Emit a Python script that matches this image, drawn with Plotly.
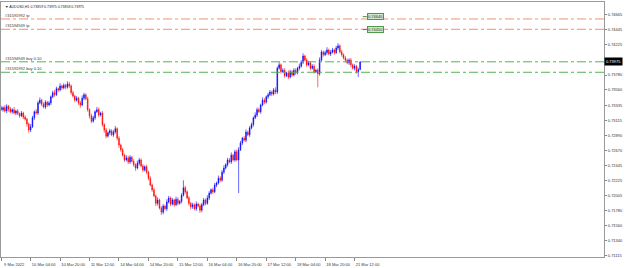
import plotly.graph_objects as go

# ---------------- data ----------------
FIRST_OPEN = 0.7330
CLOSE = [
    0.7327, 0.7330, 0.7325, 0.7332, 0.7328, 0.7324, 0.7327, 0.7322, 0.7325, 0.7321,
    0.7318, 0.7322, 0.7316, 0.7313, 0.7306, 0.7297, 0.7302, 0.7315, 0.7324, 0.7322,
    0.7337, 0.7341, 0.7335, 0.7331, 0.7338, 0.7334, 0.7337, 0.7346, 0.7352, 0.7349,
    0.7358, 0.7356, 0.7362, 0.7359, 0.7363, 0.7360, 0.7365, 0.7362, 0.7352, 0.7347,
    0.7341, 0.7344, 0.7337, 0.7334, 0.7344, 0.7349, 0.7343, 0.7327, 0.7318, 0.7310,
    0.7315, 0.7324, 0.7327, 0.7319, 0.7322, 0.7305, 0.7297, 0.7288, 0.7293, 0.7296,
    0.7290, 0.7294, 0.7299, 0.7285, 0.7275, 0.7268, 0.7260, 0.7253, 0.7256, 0.7250,
    0.7257, 0.7251, 0.7246, 0.7241, 0.7248, 0.7253, 0.7244, 0.7238, 0.7243, 0.7235,
    0.7226, 0.7216, 0.7209, 0.7200, 0.7189, 0.7194, 0.7182, 0.7176, 0.7185, 0.7181,
    0.7191, 0.7197, 0.7188, 0.7194, 0.7187, 0.7195, 0.7189, 0.7192, 0.7201, 0.7212,
    0.7206, 0.7197, 0.7189, 0.7184, 0.7187, 0.7181, 0.7188, 0.7185, 0.7179, 0.7187,
    0.7194, 0.7189, 0.7197, 0.7204, 0.7209, 0.7206, 0.7216, 0.7219, 0.7226, 0.7223,
    0.7235, 0.7241, 0.7246, 0.7253, 0.7250, 0.7260, 0.7253, 0.7265, 0.7253, 0.7268,
    0.7278, 0.7285, 0.7282, 0.7294, 0.7290, 0.7300, 0.7305, 0.7315, 0.7319, 0.7327,
    0.7324, 0.7334, 0.7341, 0.7338, 0.7346, 0.7349, 0.7353, 0.7350, 0.7356, 0.7353,
    0.7388, 0.7393, 0.7383, 0.7385, 0.7377, 0.7381, 0.7375, 0.7383, 0.7378, 0.7385,
    0.7381, 0.7388, 0.7391, 0.7397, 0.7406, 0.7400, 0.7393, 0.7396, 0.7388, 0.7391,
    0.7383, 0.7385, 0.7380, 0.7400, 0.7412, 0.7408, 0.7411, 0.7415, 0.7409, 0.7412,
    0.7415, 0.7411, 0.7418, 0.7421, 0.7412, 0.7408, 0.7403, 0.7400, 0.7396, 0.7400,
    0.7393, 0.7388, 0.7391, 0.7383, 0.73859, 0.73975,
]
WICK_UP_PIPS = [
    3, 2, 4, 3, 2, 3, 2, 4, 2, 3,
    2, 3, 2, 3, 2, 2, 4, 3, 2, 4,
    3, 4, 2, 3, 3, 2, 3, 2, 3, 4,
    3, 2, 4, 2, 3, 2, 4, 3, 2, 3,
    2, 3, 2, 3, 4, 3, 2, 3, 2, 3,
    3, 2, 4, 3, 2, 3, 2, 3, 2, 3,
    2, 3, 4, 2, 3, 2, 3, 2, 4, 3,
    3, 2, 3, 2, 4, 3, 2, 3, 2, 3,
    2, 3, 2, 3, 2, 4, 2, 3, 3, 2,
    4, 3, 2, 3, 2, 4, 3, 2, 3, 11,
    3, 2, 3, 2, 3, 2, 4, 2, 3, 3,
    3, 2, 4, 3, 2, 3, 3, 2, 4, 3,
    3, 4, 2, 3, 3, 4, 2, 3, 3, 4,
    3, 2, 3, 4, 2, 3, 3, 2, 4, 3,
    3, 2, 4, 3, 2, 3, 3, 2, 3, 4,
    3, 4, 2, 3, 3, 2, 4, 3, 2, 3,
    3, 2, 4, 3, 4, 2, 3, 3, 2, 3,
    3, 2, 3, 4, 3, 2, 3, 4, 2, 3,
    3, 2, 3, 4, 2, 3, 2, 3, 2, 3,
    3, 2, 3, 2, 3, 0,
]
WICK_DN_PIPS = [
    2, 3, 2, 3, 4, 2, 3, 2, 3, 2,
    3, 2, 3, 2, 4, 4, 3, 2, 3, 2,
    3, 2, 3, 2, 3, 3, 2, 3, 2, 3,
    2, 3, 2, 3, 2, 3, 2, 3, 3, 2,
    3, 2, 3, 4, 2, 3, 2, 3, 4, 3,
    2, 3, 2, 3, 2, 3, 4, 3, 2, 3,
    2, 3, 2, 3, 4, 3, 2, 3, 2, 3,
    3, 2, 3, 4, 2, 3, 2, 3, 2, 3,
    3, 2, 3, 2, 4, 3, 2, 4, 3, 2,
    3, 2, 3, 2, 3, 2, 3, 2, 3, 2,
    3, 2, 3, 4, 3, 2, 3, 2, 4, 3,
    2, 3, 2, 3, 2, 3, 2, 3, 2, 3,
    2, 3, 2, 3, 2, 3, 2, 3, 2, 49,
    2, 3, 2, 3, 2, 3, 2, 3, 2, 3,
    2, 3, 2, 3, 2, 3, 2, 3, 2, 3,
    3, 2, 3, 2, 3, 2, 3, 2, 3, 2,
    3, 2, 3, 2, 3, 2, 3, 2, 3, 2,
    3, 2, 20, 3, 2, 3, 2, 3, 2, 3,
    2, 3, 2, 3, 2, 3, 2, 3, 2, 3,
    3, 2, 3, 3, 8, 0,
]
X_TICK_INDEX = [0, 16, 32, 48, 64, 80, 96, 112, 128, 144, 160, 176, 192]
X_TICK_LABELS = ["9 Mar 2022", "10 Mar 04:00", "10 Mar 20:00", "11 Mar 12:00",
                 "14 Mar 04:00", "14 Mar 20:00", "15 Mar 12:00", "16 Mar 04:00",
                 "16 Mar 20:00", "17 Mar 12:00", "18 Mar 04:00", "18 Mar 20:00",
                 "21 Mar 12:00"]
Y_TICKS = [0.74665, 0.74445, 0.74225, 0.73780, 0.73560, 0.73335, 0.73115, 0.72890,
           0.72670, 0.72445, 0.72225, 0.72005, 0.71780, 0.71560, 0.71340, 0.71115]
TP_LEVELS = [0.74606, 0.74454]
TP_LABELS = ["#31591992 tp", "#31594949 tp"]
BUY_LEVELS = [0.73975, 0.73821]
BUY_LABELS = ["#31594949 buy 0.10", "#31591992 buy 0.10"]
BOX_LEVELS = [0.74640, 0.74450]
BOX_TEXTS = ["0.74640", "0.74450"]
TITLE = "\u25bc AUDUSD,H1 0.73859 0.73975 0.73858 0.73975"
LAST_PRICE = 0.73975

# ---------------- build ----------------
PIP = 0.0001
x = list(range(len(CLOSE)))
opens = [FIRST_OPEN] + CLOSE[:-1]
highs = [max(o, c) + u * PIP for o, c, u in zip(opens, CLOSE, WICK_UP_PIPS)]
lows = [min(o, c) - d * PIP for o, c, d in zip(opens, CLOSE, WICK_DN_PIPS)]

FONT = "Liberation Sans"
fig = go.Figure(go.Candlestick(
    x=x, open=opens, high=highs, low=lows, close=CLOSE,
    increasing=dict(line=dict(color="#0000FF", width=0.6), fillcolor="#0000FF"),
    decreasing=dict(line=dict(color="#FF0000", width=0.6), fillcolor="#FF0000"),
    whiskerwidth=0, hoverinfo="skip", showlegend=False,
))

shapes = []
annotations = []
for lvl, lab in zip(TP_LEVELS, TP_LABELS):
    shapes.append(dict(type="line", xref="paper", x0=0, x1=1, yref="y", y0=lvl, y1=lvl,
                       line=dict(color="#F2926C", width=1, dash="dashdot")))
    annotations.append(dict(xref="paper", x=0, xanchor="left", xshift=2, y=lvl, yanchor="bottom",
                            yshift=-1, text=lab, showarrow=False,
                            font=dict(size=4, color="#333", family=FONT)))
for lvl, lab in zip(BUY_LEVELS, BUY_LABELS):
    shapes.append(dict(type="line", xref="paper", x0=0, x1=1, yref="y", y0=lvl, y1=lvl,
                       line=dict(color="#55B255", width=1, dash="dashdot")))
    annotations.append(dict(xref="paper", x=0, xanchor="left", xshift=2, y=lvl, yanchor="bottom",
                            yshift=-1, text=lab, showarrow=False,
                            font=dict(size=4, color="#333", family=FONT)))
for lvl, txt in zip(BOX_LEVELS, BOX_TEXTS):
    shapes.append(dict(type="line", xref="x", x0=196.5, x1=198.6, yref="y", y0=lvl, y1=lvl,
                       line=dict(color="#3C8C3C", width=1)))
    annotations.append(dict(x=198.6, xanchor="left", y=lvl, yanchor="middle", text=txt,
                            showarrow=False, bgcolor="#CDE8CD", bordercolor="#4C9A4C",
                            borderwidth=1, borderpad=0, font=dict(size=4, color="#333", family=FONT)))

annotations.append(dict(xref="paper", x=1, xanchor="left", xshift=0, y=LAST_PRICE, yanchor="middle",
                        text=f"{LAST_PRICE:.5f}", showarrow=False, bgcolor="#000000",
                        borderpad=1, font=dict(size=4, color="#FFFFFF", family=FONT)))
annotations.append(dict(xref="paper", x=0, xanchor="left", xshift=2, yref="paper", y=1,
                        yanchor="top", yshift=-1, text=TITLE, showarrow=False,
                        font=dict(size=3.5, color="#222", family=FONT)))

fig.update_layout(
    width=625, height=268,
    margin=dict(l=1, r=21, t=2, b=11),
    paper_bgcolor="white", plot_bgcolor="white",
    shapes=shapes, annotations=annotations,
    boxgap=0.45,
    xaxis=dict(range=[-0.1, 327.5], rangeslider=dict(visible=False),
               tickmode="array", tickvals=X_TICK_INDEX, ticktext=X_TICK_LABELS,
               ticks="outside", ticklen=3, tickcolor="#888", ticklabelshift=13,
               tickfont=dict(size=4, color="#333", family=FONT),
               showline=True, linecolor="#999", linewidth=1, mirror=True,
               showgrid=False, zeroline=False, fixedrange=True),
    yaxis=dict(range=[0.71100, 0.74856], side="right",
               tickmode="array", tickvals=Y_TICKS, ticktext=[f"{v:.5f}" for v in Y_TICKS],
               ticks="outside", ticklen=2, tickcolor="#888",
               tickfont=dict(size=4, color="#333", family=FONT),
               showline=True, linecolor="#999", linewidth=1, mirror=True,
               showgrid=False, zeroline=False, fixedrange=True),
    hovermode=False,
)

fig.write_html("out.html")
